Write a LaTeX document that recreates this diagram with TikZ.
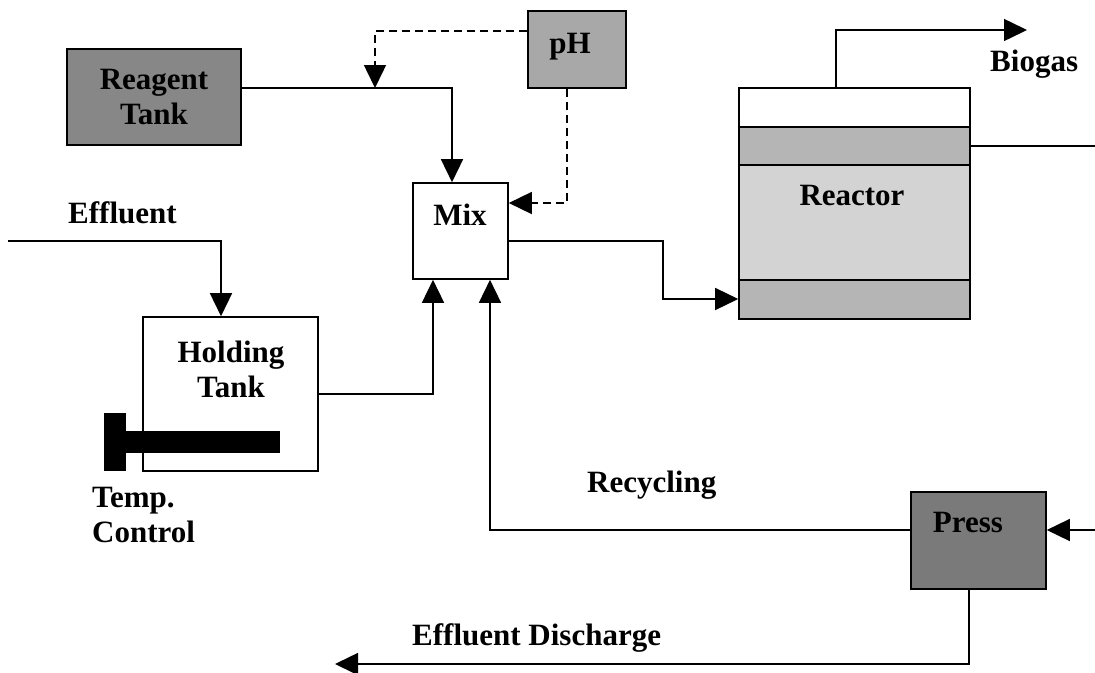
\documentclass[tikz,border=0pt]{standalone}
\usepackage{fontspec}
\setmainfont{Liberation Serif}
\usetikzlibrary{arrows.meta}
\definecolor{reagentgray}{HTML}{878787}
\definecolor{phgray}{HTML}{A8A8A8}
\definecolor{pressgray}{HTML}{7A7A7A}
\definecolor{bandgray}{HTML}{B5B5B5}
\definecolor{midgray}{HTML}{D3D3D3}
\tikzset{
  lbl/.style={font=\bfseries\fontsize{31pt}{35pt}\selectfont, inner sep=0pt, align=center},
  box/.style={draw, line width=1.6pt, inner sep=0pt},
  arr/.style={line width=1.5pt, -{Triangle[length=23pt,width=22pt]}},
  plain/.style={line width=1.5pt},
  darr/.style={arr, dash pattern=on 8pt off 5pt},
}
\begin{document}
\begin{tikzpicture}[x=1pt,y=-1pt]
\useasboundingbox (0,0) rectangle (1095,672);

% boxes
\node[box, fill=reagentgray, minimum width=174pt, minimum height=96pt, lbl] (reagent) at (154,97) {Reagent\\Tank};
\node[box, fill=phgray, minimum width=98pt, minimum height=77pt] (ph) at (577,49.5) {};
\node[lbl] (phlabel) at (570,47) {pH};
\node[box, minimum width=95pt, minimum height=96pt] (mix) at (460.5,231) {};
\node[lbl] (mixlabel) at (460,215) {Mix};
\node[box, minimum width=175pt, minimum height=154pt] (hold) at (230.5,394) {};
\node[lbl] (holdlabel) at (231,369) {Holding\\Tank};
\node[box, fill=pressgray, minimum width=135pt, minimum height=97pt] (press) at (978.5,540.5) {};
\node[lbl] (presslabel) at (968,522) {Press};

% reactor
\fill[bandgray] (739,127) rectangle (970,165);
\fill[midgray] (739,165) rectangle (970,280);
\fill[bandgray] (739,280) rectangle (970,319);
\draw[line width=1.6pt] (739,127) -- (970,127) (739,165) -- (970,165) (739,280) -- (970,280);
\node[box, minimum width=231pt, minimum height=231pt] (reactor) at (854.5,203.5) {};
\node[lbl, anchor=base] (reactorlabel) at (852,205) {Reactor};

% temperature control
\fill (104,413) rectangle (126,471);
\fill (126,431) rectangle (280,453);

% free labels
\node[lbl, anchor=base west] (efflabel) at (68,223) {Effluent};
\node[lbl, anchor=base west] (biolabel) at (990,71) {Biogas};
\node[lbl, anchor=base west] (reclabel) at (587,492) {Recycling};
\node[lbl, anchor=base west] (dislabel) at (412,645) {Effluent Discharge};
\node[lbl, align=left, anchor=north west] (templabel) at (92,487) {Temp.\\Control};

% free ends
\coordinate (j) at (375,88);
\coordinate (biogasend) at (1027,30);
\coordinate (rout) at (1095,146);
\coordinate (effin) at (8,241);
\coordinate (pin) at (1095,530);
\coordinate (dis) at (335,664);

% connectors
\draw[arr] ([yshift=9pt]reagent.east) -| ([xshift=-8.5pt]mix.north);
\draw[darr] ([yshift=18.5pt]ph.west) -| (j);
\draw[darr] ([xshift=-10pt]ph.south) |- ([yshift=28pt]mix.east);
\draw[arr] ([yshift=-10pt]mix.east) -- ++(154,0) |- ([yshift=-95.5pt]reactor.west);
\draw[arr] ([xshift=-18.5pt]reactor.north) |- (biogasend);
\draw[plain] (reactor.east |- rout) -- (rout);
\draw[arr] (effin) -| ([xshift=-9.5pt]hold.north);
\draw[arr] (hold.east) -| ([xshift=-27.5pt]mix.south);
\draw[arr] ([yshift=10.5pt]press.west) -| ([xshift=29.5pt]mix.south);
\draw[arr] (pin) -- (press.east |- pin);
\draw[arr] ([xshift=-9.5pt]press.south) |- (dis);
\end{tikzpicture}
\end{document}
